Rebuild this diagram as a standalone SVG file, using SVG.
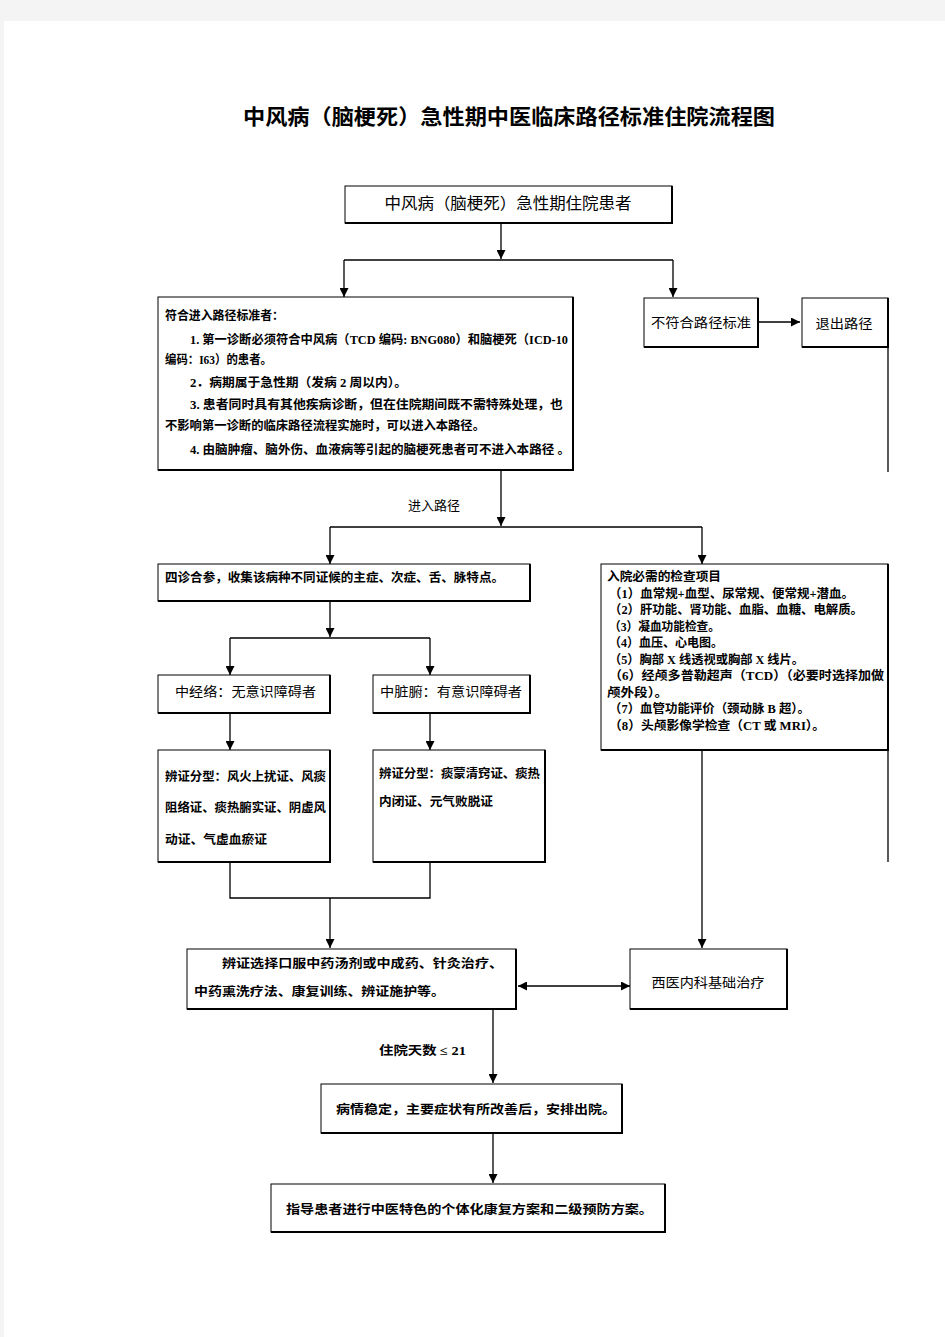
<svg xmlns="http://www.w3.org/2000/svg" width="945" height="1337" viewBox="0 0 945 1337">
<defs>
<marker id="ah" viewBox="0 0 10 10" refX="10" refY="5" markerWidth="9" markerHeight="9" markerUnits="userSpaceOnUse" orient="auto-start-reverse">
<path d="M0,0 L10,5 L0,10 z" fill="#000"/>
</marker>
<style>
.box{fill:#fff;stroke:#000;stroke-width:1}
.sh{fill:none;stroke:#000;stroke-width:2}
.ln{fill:none;stroke:#000;stroke-width:1.3}
.ar{fill:none;stroke:#000;stroke-width:1.3;marker-end:url(#ah)}
text{font-family:"Liberation Serif","Noto Sans CJK SC",serif;fill:#000}
.t{font-size:12.5px;font-weight:bold}
.m{font-size:13px}
.title{font-size:21px;font-weight:bold;font-family:"Noto Sans CJK SC",sans-serif}
</style>
</defs>
<rect x="0" y="0" width="945" height="1337" fill="#f4f4f4"/>
<rect x="4" y="21" width="941" height="1316" fill="#fff"/>
<text class="title" x="509" y="124" text-anchor="middle" textLength="532" lengthAdjust="spacingAndGlyphs">中风病（脑梗死）急性期中医临床路径标准住院流程图</text>

<g id="connectors">
<path class="ar" d="M501,223 V259"/>
<path class="ln" d="M344,260 H673"/>
<path class="ar" d="M344,260 V297"/>
<path class="ar" d="M673,260 V297"/>
<path class="ar" d="M758,322 H800"/>
<path class="ln" d="M888,347 V472"/>
<path class="ar" d="M501,470 V526"/>
<path class="ln" d="M330,527 H702"/>
<path class="ar" d="M330,527 V564"/>
<path class="ar" d="M702,527 V564"/>
<path class="ar" d="M330,601 V637"/>
<path class="ln" d="M230,638 H430"/>
<path class="ar" d="M230,638 V675"/>
<path class="ar" d="M430,638 V675"/>
<path class="ar" d="M230,713 V750"/>
<path class="ar" d="M430,713 V750"/>
<path class="ln" d="M230,862 V898 H430 V862"/>
<path class="ar" d="M330,898 V948"/>
<path class="ar" d="M702,750 V948"/>
<path class="ln" d="M888,750 V862"/>
<path class="ar" d="M518,986 H630" marker-start="url(#ah)"/>
<path class="ar" d="M493,1009 V1083"/>
<path class="ar" d="M493,1133 V1183"/>
<text class="m" x="408" y="510">进入路径</text>
<text class="t" x="379" y="1055" textLength="87" lengthAdjust="spacingAndGlyphs">住院天数 ≤ 21</text>
</g>

<g id="n_start">
<rect class="box" x="345" y="186" width="327" height="37"/>
<path class="sh" d="M672,186 V223 H345"/>
<text x="508" y="209" font-size="16" text-anchor="middle" textLength="247" lengthAdjust="spacingAndGlyphs">中风病（脑梗死）急性期住院患者</text>
</g>

<g id="n_criteria">
<rect class="box" x="158" y="297" width="415" height="173"/>
<path class="sh" d="M573,297 V470 H158"/>
<text class="t" x="165" y="320" textLength="119" lengthAdjust="spacingAndGlyphs">符合进入路径标准者：</text>
<text class="t" x="190" y="344" textLength="378" lengthAdjust="spacingAndGlyphs">1. 第一诊断必须符合中风病（TCD 编码: BNG080）和脑梗死（ICD-10</text>
<text class="t" x="165" y="364" textLength="107" lengthAdjust="spacingAndGlyphs">编码：I63）的患者。</text>
<text class="t" x="190" y="387" textLength="217" lengthAdjust="spacingAndGlyphs">2．病期属于急性期（发病 2 周以内）。</text>
<text class="t" x="190" y="409" textLength="373" lengthAdjust="spacingAndGlyphs">3. 患者同时具有其他疾病诊断，但在住院期间既不需特殊处理，也</text>
<text class="t" x="165" y="430" textLength="320" lengthAdjust="spacingAndGlyphs">不影响第一诊断的临床路径流程实施时，可以进入本路径。</text>
<text class="t" x="190" y="454" textLength="380" lengthAdjust="spacingAndGlyphs">4. 由脑肿瘤、脑外伤、血液病等引起的脑梗死患者可不进入本路径 。</text>
</g>

<g id="n_notmeet">
<rect class="box" x="644" y="298" width="114" height="49"/>
<path class="sh" d="M758,298 V347 H644"/>
<text class="m" x="701" y="327" text-anchor="middle" textLength="100" lengthAdjust="spacingAndGlyphs">不符合路径标准</text>
</g>

<g id="n_exit">
<rect class="box" x="802" y="298" width="86" height="49"/>
<path class="sh" d="M888,298 V347 H802"/>
<text class="m" x="844" y="328" text-anchor="middle" textLength="57" lengthAdjust="spacingAndGlyphs">退出路径</text>
</g>

<g id="n_fourdiag">
<rect class="box" x="158" y="564" width="372" height="37"/>
<path class="sh" d="M530,564 V601 H158"/>
<text class="t" x="165" y="582" textLength="339" lengthAdjust="spacingAndGlyphs">四诊合参，收集该病种不同证候的主症、次症、舌、脉特点。</text>
</g>

<g id="n_exams">
<rect class="box" x="601" y="564" width="287" height="186"/>
<path class="sh" d="M888,564 V750 H601"/>
<text class="t" x="607" y="581" textLength="114" lengthAdjust="spacingAndGlyphs">入院必需的检查项目</text>
<text class="t" x="609" y="598" textLength="245" lengthAdjust="spacingAndGlyphs">（1）血常规+血型、尿常规、便常规+潜血。</text>
<text class="t" x="609" y="614" textLength="254" lengthAdjust="spacingAndGlyphs">（2）肝功能、肾功能、血脂、血糖、电解质。</text>
<text class="t" x="609" y="631" textLength="111" lengthAdjust="spacingAndGlyphs">（3）凝血功能检查。</text>
<text class="t" x="609" y="647" textLength="114" lengthAdjust="spacingAndGlyphs">（4）血压、心电图。</text>
<text class="t" x="609" y="664" textLength="195" lengthAdjust="spacingAndGlyphs">（5）胸部 X 线透视或胸部 X 线片。</text>
<text class="t" x="609" y="680" textLength="275" lengthAdjust="spacingAndGlyphs">（6）经颅多普勒超声（TCD）（必要时选择加做</text>
<text class="t" x="607" y="697" textLength="61" lengthAdjust="spacingAndGlyphs">颅外段）。</text>
<text class="t" x="609" y="713" textLength="201" lengthAdjust="spacingAndGlyphs">（7）血管功能评价（颈动脉 B 超）。</text>
<text class="t" x="609" y="730" textLength="216" lengthAdjust="spacingAndGlyphs">（8）头颅影像学检查（CT 或 MRI）。</text>
</g>

<g id="n_meridian">
<rect class="box" x="158" y="675" width="172" height="38"/>
<path class="sh" d="M330,675 V713 H158"/>
<text class="m" x="175" y="696" textLength="141" lengthAdjust="spacingAndGlyphs">中经络：无意识障碍者</text>
</g>

<g id="n_organ">
<rect class="box" x="373" y="675" width="157" height="38"/>
<path class="sh" d="M530,675 V713 H373"/>
<text class="m" x="380" y="696" textLength="142" lengthAdjust="spacingAndGlyphs">中脏腑：有意识障碍者</text>
</g>

<g id="n_type1">
<rect class="box" x="158" y="750" width="172" height="112"/>
<path class="sh" d="M330,750 V862 H158"/>
<text class="t" x="165" y="781" textLength="161" lengthAdjust="spacingAndGlyphs">辨证分型：风火上扰证、风痰</text>
<text class="t" x="165" y="812" textLength="161" lengthAdjust="spacingAndGlyphs">阻络证、痰热腑实证、阴虚风</text>
<text class="t" x="165" y="844" textLength="102" lengthAdjust="spacingAndGlyphs">动证、气虚血瘀证</text>
</g>

<g id="n_type2">
<rect class="box" x="373" y="750" width="172" height="112"/>
<path class="sh" d="M545,750 V862 H373"/>
<text class="t" x="379" y="778" textLength="161" lengthAdjust="spacingAndGlyphs">辨证分型：痰蒙清窍证、痰热</text>
<text class="t" x="379" y="806" textLength="114" lengthAdjust="spacingAndGlyphs">内闭证、元气败脱证</text>
</g>

<g id="n_tcm">
<rect class="box" x="187" y="949" width="329" height="60"/>
<path class="sh" d="M516,949 V1009 H187"/>
<text class="t" x="222" y="968" textLength="281" lengthAdjust="spacingAndGlyphs">辨证选择口服中药汤剂或中成药、针灸治疗、</text>
<text class="t" x="194" y="996" textLength="251" lengthAdjust="spacingAndGlyphs">中药熏洗疗法、康复训练、辨证施护等。</text>
</g>

<g id="n_western">
<rect class="box" x="630" y="949" width="157" height="60"/>
<path class="sh" d="M787,949 V1009 H630"/>
<text class="m" x="708" y="987" text-anchor="middle" textLength="113" lengthAdjust="spacingAndGlyphs">西医内科基础治疗</text>
</g>

<g id="n_discharge">
<rect class="box" x="321" y="1084" width="301" height="49"/>
<path class="sh" d="M622,1084 V1133 H321"/>
<text class="t" x="336" y="1114" textLength="280" lengthAdjust="spacingAndGlyphs">病情稳定，主要症状有所改善后，安排出院。</text>
</g>

<g id="n_guide">
<rect class="box" x="271" y="1184" width="394" height="48"/>
<path class="sh" d="M665,1184 V1232 H271"/>
<text class="t" x="286" y="1214" textLength="367" lengthAdjust="spacingAndGlyphs">指导患者进行中医特色的个体化康复方案和二级预防方案。</text>
</g>
</svg>
